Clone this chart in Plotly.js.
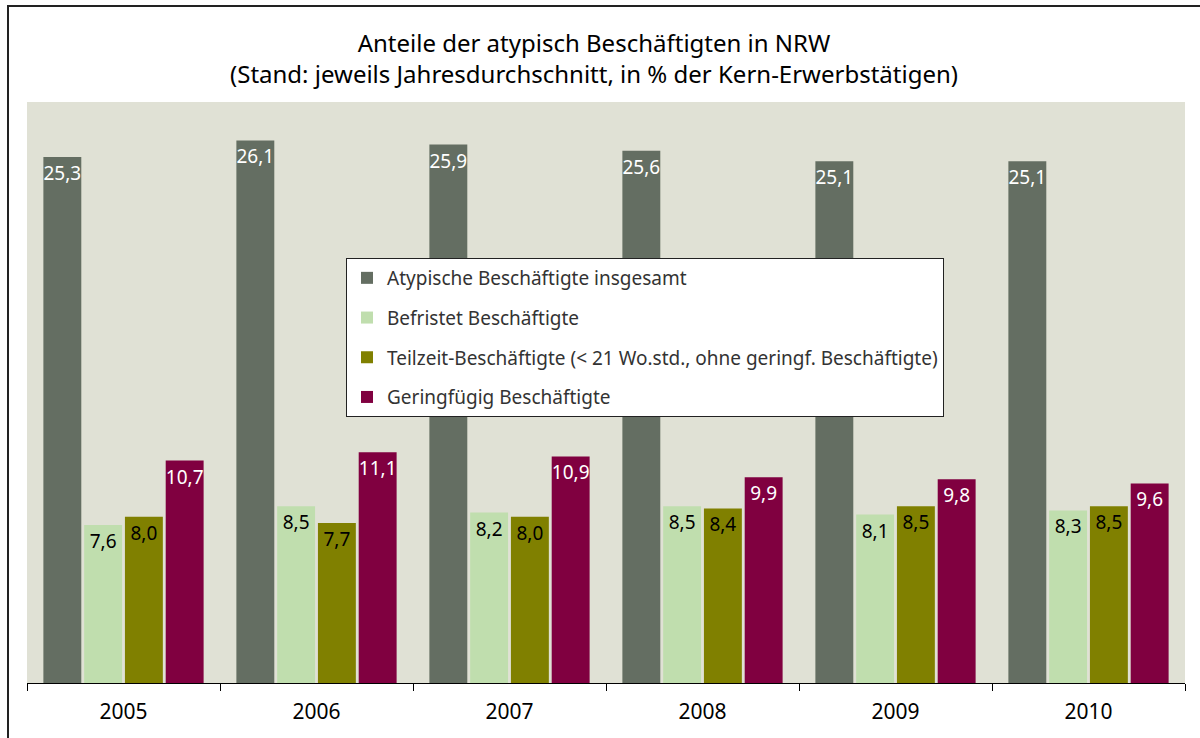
<!DOCTYPE html>
<html><head><meta charset="utf-8">
<script src="https://cdn.plot.ly/plotly-3.0.1.min.js"></script>
<style>html,body{margin:0;padding:0;background:#fff}</style>
</head><body>
<div id="chart" style="width:1200px;height:738px"></div>
<script>
const years = ["2005","2006","2007","2008","2009","2010"];
const seriesNames = ["Atypische Beschäftigte insgesamt","Befristet Beschäftigte","Teilzeit-Beschäftigte (< 21 Wo.std., ohne geringf. Beschäftigte)","Geringfügig Beschäftigte"];
const atypisch = [25.3,26.1,25.9,25.6,25.1,25.1];
const befristet = [7.6,8.5,8.2,8.5,8.1,8.3];
const teilzeit = [8.0,7.7,8.0,8.4,8.5,8.5];
const geringfuegig = [10.7,11.1,10.9,9.9,9.8,9.6];
const colors = ["#646E62","#C0DEAE","#808000","#800040"];
const textColors = ["#ffffff","#000000","#000000","#ffffff"];
const values = [atypisch,befristet,teilzeit,geringfuegig];
const FONT = "'Noto Sans', 'Open Sans', sans-serif";

const traces = values.map((v,i)=>({
  type:"bar", x:years, y:v, name:seriesNames[i],
  marker:{color:colors[i], line:{width:0}},
  texttemplate:"%{y:.1f}", textposition:"inside", insidetextanchor:"end",
  textangle:0, constraintext:"none", cliponaxis:false,
  textfont:{color:textColors[i], size:19, family:FONT},
  legendgroup:"g"+i, hoverinfo:"skip"
}));

const L=27, R=15, T=102, B=55, W=1200, H=738;
const pw=W-L-R, ph=H-T-B;
const py = p => (H-B-p)/ph;   // pixel row -> paper y
const px = p => (p-L)/pw;     // pixel col -> paper x
const layout = {
  width:W, height:H,
  margin:{l:L,r:R,t:T,b:B,pad:0},
  paper_bgcolor:"#ffffff", plot_bgcolor:"#E0E1D5",
  separators:", ",
  font:{family:FONT, color:"#000"},
  title:{text:"Anteile der atypisch Beschäftigten in NRW<br>(Stand: jeweils Jahresdurchschnitt, in % der Kern-Erwerbstätigen)",
    font:{size:24, color:"#000", family:FONT}, x:px(594), xref:"paper", xanchor:"center", y:1-52/H, yanchor:"top"},
  barmode:"group", bargap:0.155, bargroupgap:0.07,
  xaxis:{type:"category", showline:true, linecolor:"#000", linewidth:1, ticks:"outside", ticklen:7, tickcolor:"#000",
    tickson:"boundaries", ticklabelstandoff:10, showgrid:false, zeroline:false, tickfont:{size:21, color:"#000", family:FONT}},
  yaxis:{range:[0,27.95], visible:false, showgrid:false, zeroline:false},
  showlegend:true,
  legend:{x:px(346), y:py(258), xanchor:"left", yanchor:"top", bgcolor:"#ffffff",
    bordercolor:"#222", borderwidth:1, traceorder:"grouped", tracegroupgap:12,
    font:{size:19, color:"#333", family:FONT}, itemwidth:30},
  shapes:[{type:"path", xref:"paper", yref:"paper",
    path:`M ${px(8)} ${py(800)} L ${px(8)} ${py(6)} L ${px(1260)} ${py(6)}`,
    line:{color:"#222", width:2}}]
};
Plotly.newPlot("chart", traces, layout, {displayModeBar:false, staticPlot:true});
</script>
</body></html>
